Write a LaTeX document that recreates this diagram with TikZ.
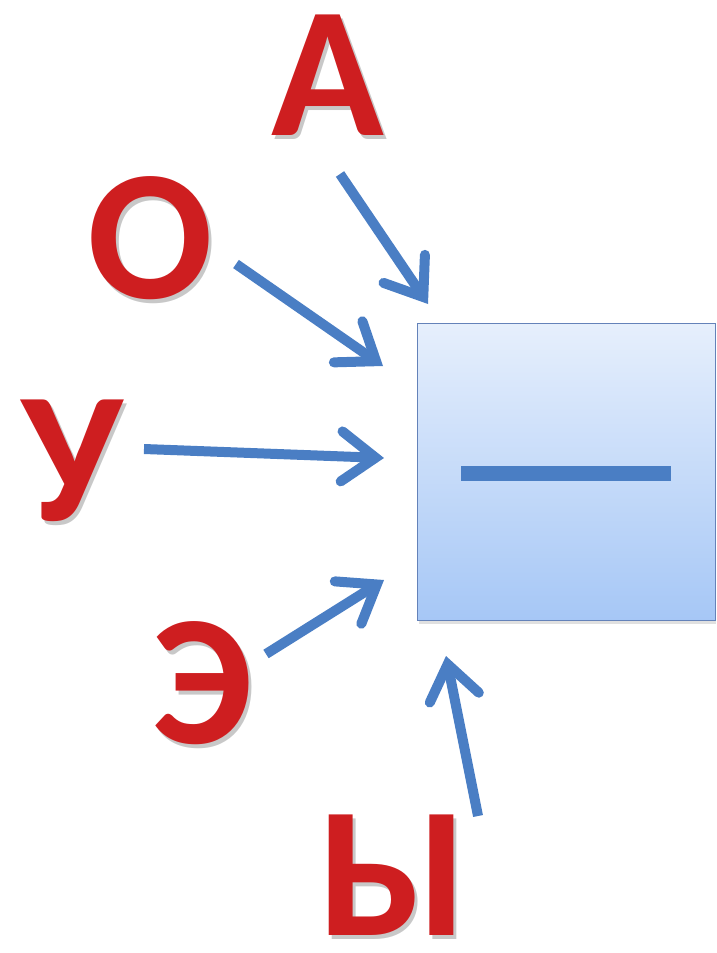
\documentclass[tikz,border=0pt]{standalone}
\usepackage{fontspec}
\setmainfont{Carlito}
\usetikzlibrary{arrows.meta}
\definecolor{letred}{RGB}{206,30,32}
\definecolor{letshadow}{RGB}{200,200,200}
\definecolor{arrblue}{RGB}{74,126,196}
\definecolor{boxtop}{RGB}{230,239,252}
\definecolor{boxbot}{RGB}{166,199,246}
\definecolor{boxline}{RGB}{100,130,185}
\newcommand{\shletter}[1]{\makebox[0pt][l]{\hspace{3pt}\raisebox{-4pt}{\textcolor{letshadow}{#1}}}#1}
\tikzset{
  letter/.style={anchor=base, inner sep=0pt, text=letred,
    text height=122pt, text depth=0pt,
    font=\fontsize{186}{186}\selectfont\bfseries},
  arr/.style={draw=arrblue, line width=10pt,
    -{Straight Barb[length=34pt,width=50pt,line cap=round]}},
}
\begin{document}
\begin{tikzpicture}[x=1pt,y=-1pt]
\useasboundingbox (0,0) rectangle (716,953);
\node[letter] (a) at (328,135) {\shletter{А}};
\node[letter] (o) at (150,298) {\shletter{О}};
\node[letter] (u) at (72,520) {\shletter{У}};
\node[letter] (e) at (203,743) {\shletter{Э}};
\node[letter] (y) at (394,935) {\shletter{Ы}};
% box
\fill[gray!40, opacity=0.6] (419,326) rectangle (716,624);
\node[draw=boxline, line width=1.2pt, top color=boxtop, bottom color=boxbot,
  minimum width=298pt, minimum height=297pt, inner sep=0pt, anchor=north west]
  (sq) at (417,323) {};
\coordinate (dl) at (461,473);
\coordinate (dr) at (671,473);
\draw[arrblue, line width=15pt] (dl) -- (dr);
% arrow end points
\coordinate (as) at (340,174); \coordinate (at) at (428,304);
\coordinate (os) at (236,264); \coordinate (ot) at (383,366);
\coordinate (us) at (144,449); \coordinate (ut) at (384,458);
\coordinate (es) at (266,654); \coordinate (et) at (384,580);
\coordinate (ys) at (478,816); \coordinate (yt) at (446,656);
\draw[arr] (as) -- (at);
\draw[arr] (os) -- (ot);
\draw[arr] (us) -- (ut);
\draw[arr] (es) -- (et);
\draw[arr] (ys) -- (yt);
\end{tikzpicture}
\end{document}
